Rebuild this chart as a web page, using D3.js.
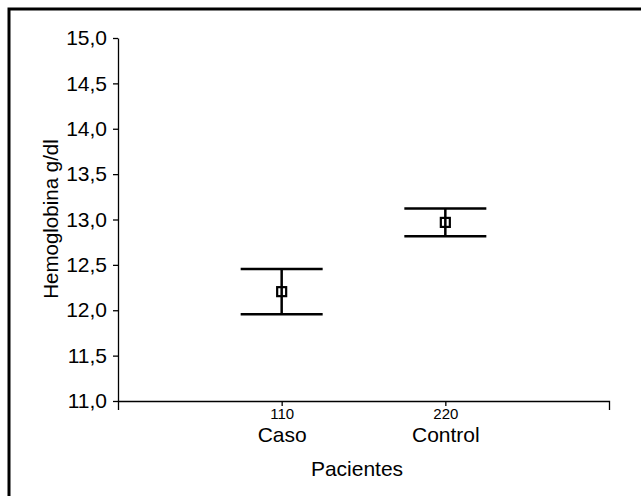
<!DOCTYPE html>
<html>
<head>
<meta charset="utf-8">
<script src="https://cdn.jsdelivr.net/npm/d3@7/dist/d3.min.js"></script>
<style>
  html, body { margin: 0; padding: 0; background: #fff; }
  svg { display: block; }
  text { font-family: "Liberation Sans", Arial, sans-serif; fill: #000; }
</style>
</head>
<body>
<svg id="chart" width="641" height="496"></svg>
<script>
// ---- data ----
const categories = ["Caso", "Control"];
const groupN = [110, 220];            // x positions / sample size labels
const means = [12.205, 12.968];
const errors = [0.25, 0.153];
const yTicks = [11.0, 11.5, 12.0, 12.5, 13.0, 13.5, 14.0, 14.5, 15.0];
const yTitle = "Hemoglobina g/dl";
const xTitle = "Pacientes";

// ---- layout ----
const svg = d3.select("#chart");
const x = d3.scaleLinear().domain([0, 330]).range([118, 609]);
const y = d3.scaleLinear().domain([11, 15]).range([401, 38]);
const fmt = v => d3.format(".1f")(v).replace(".", ",");

// outer frame (only top/left visible)
svg.append("rect")
  .attr("x", 9).attr("y", 9).attr("width", 700).attr("height", 600)
  .attr("fill", "none").attr("stroke", "#000").attr("stroke-width", 3);

// y axis
const yAxis = svg.append("g")
  .attr("transform", `translate(${x(0)},0)`)
  .call(d3.axisLeft(y).tickValues(yTicks).tickFormat(fmt).tickSizeInner(5).tickSizeOuter(0).tickPadding(6));
yAxis.selectAll("text").style("font-size", "21px");

// x axis
const xAxis = svg.append("g")
  .attr("transform", `translate(0,${y(11)})`)
  .call(d3.axisBottom(x).tickValues(groupN).tickFormat(d => d).tickSizeInner(5).tickSizeOuter(9).tickPadding(2));
xAxis.selectAll(".tick text").style("font-size", "15px");
// category labels under counts
xAxis.selectAll(".tick").append("text")
  .attr("y", 40.5).attr("text-anchor", "middle")
  .style("font-size", "21px")
  .text((d, i) => categories[i]);

svg.selectAll(".domain, .tick line").attr("stroke", "#000").attr("stroke-width", 1.3);

// titles
svg.append("text")
  .attr("transform", `translate(58,${219}) rotate(-90)`)
  .attr("text-anchor", "middle")
  .style("font-size", "20.5px")
  .text(yTitle);
svg.append("text")
  .attr("x", 357).attr("y", 476)
  .attr("text-anchor", "middle")
  .style("font-size", "21px")
  .text(xTitle);

// error bars
const capHalf = 41;
const g = svg.append("g");
means.forEach((m, i) => {
  const cx = x(groupN[i]);
  const yHi = y(m + errors[i]), yLo = y(m - errors[i]);
  g.append("line").attr("x1", cx).attr("x2", cx).attr("y1", yHi).attr("y2", yLo)
    .attr("stroke", "#000").attr("stroke-width", 2.5);
  [yHi, yLo].forEach(yy => {
    g.append("line").attr("x1", cx - capHalf).attr("x2", cx + capHalf).attr("y1", yy).attr("y2", yy)
      .attr("stroke", "#000").attr("stroke-width", 2.5);
  });
  g.append("rect").attr("x", cx - 4.5).attr("y", y(m) - 4.5).attr("width", 9).attr("height", 9)
    .attr("fill", "none").attr("stroke", "#000").attr("stroke-width", 2.2);
});
</script>
</body>
</html>
